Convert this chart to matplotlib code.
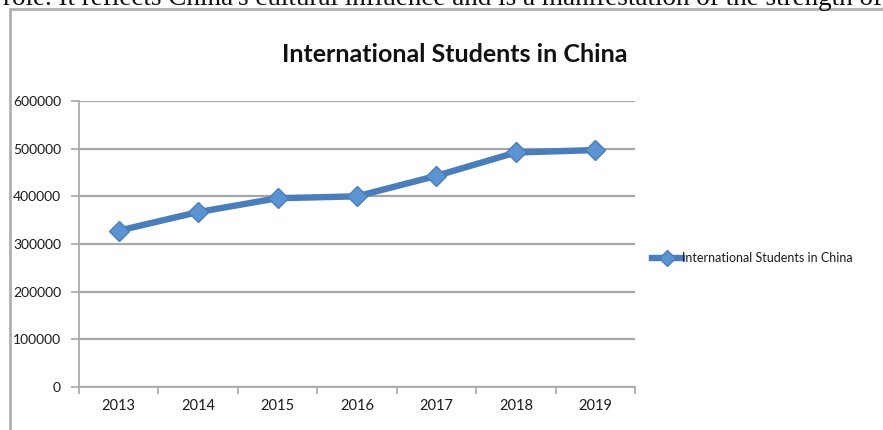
import matplotlib.pyplot as plt
from matplotlib.patches import Rectangle
from matplotlib.lines import Line2D

years = ["2013", "2014", "2015", "2016", "2017", "2018", "2019"]
students = [328000, 367000, 396000, 400000, 443000, 492000, 497000]
y_ticks = [0, 100000, 200000, 300000, 400000, 500000, 600000]
series_name = "International Students in China"
chart_title = "International Students in China"
page_text = "role. It reflects China's cultural influence and is a manifestation of the strength of"

plt.rcParams["font.family"] = ["Lato", "DejaVu Sans"]

line_blue = "#4a7ebb"
marker_blue = "#5b93d3"
grid_gray = "#a6a6a6"
text_dark = "#1a1a1a"

fig = plt.figure(figsize=(8.83, 4.30), dpi=100)

# bottom of a line of body text sitting above the chart
fig.text(0.003, 1 - 5 / 430, page_text, family=["Liberation Serif", "DejaVu Serif"],
         fontsize=19.5, va="baseline", ha="left", color="#111111")

# chart frame, running off the right and bottom edges
frame = Rectangle((10 / 883, -0.05), 1.0, 0.05 + (430 - 9) / 430,
                  transform=fig.transFigure, facecolor="none",
                  edgecolor="#b0b0b0", linewidth=2.0, zorder=0)
fig.patches.append(frame)

ax = fig.add_axes([79 / 883, 43 / 430, 556 / 883, 286 / 430])
ax.patch.set_alpha(0)
x = list(range(len(years)))

ax.plot(x, students, color=line_blue, linewidth=4.6, marker="D",
        markersize=10.5, markerfacecolor=marker_blue,
        markeredgecolor=line_blue, markeredgewidth=1.0, zorder=3,
        label=series_name)

ax.set_xlim(-0.5, len(years) - 0.5)
ax.set_ylim(0, 600000)
ax.set_yticks(y_ticks)
ax.set_yticklabels([str(v) for v in y_ticks], fontsize=10, color=text_dark)
ax.set_xticks(x)
ax.set_xticklabels(years, fontsize=10.5, color=text_dark)
ax.set_xticks([i - 0.5 for i in range(len(years) + 1)], minor=True)

ax.tick_params(axis="x", which="major", length=0, pad=9)
ax.tick_params(axis="x", which="minor", length=5, color=grid_gray, width=1.2)
ax.tick_params(axis="y", length=6, color=grid_gray, width=1.2, pad=7)

ax.grid(axis="y", color=grid_gray, linewidth=1.6)
ax.set_axisbelow(True)
for side in ["top", "right"]:
    ax.spines[side].set_visible(False)
for side in ["left", "bottom"]:
    ax.spines[side].set_color(grid_gray)
    ax.spines[side].set_linewidth(1.2)

fig.text(455 / 883, 1 - 55 / 430, chart_title, fontsize=18, fontweight="bold",
         ha="center", va="center", color="#111111")

handle = Line2D([], [], color=line_blue, linewidth=4.6, marker="D",
                markersize=8, markerfacecolor=marker_blue,
                markeredgecolor=line_blue)
fig.legend([handle], [series_name], loc="center left",
           bbox_to_anchor=(652 / 883, 1 - 258 / 430), frameon=False,
           fontsize=9, handlelength=2.4, handletextpad=0.0,
           borderpad=0, borderaxespad=0, labelcolor=text_dark)

fig.savefig("out.png", dpi=100)
